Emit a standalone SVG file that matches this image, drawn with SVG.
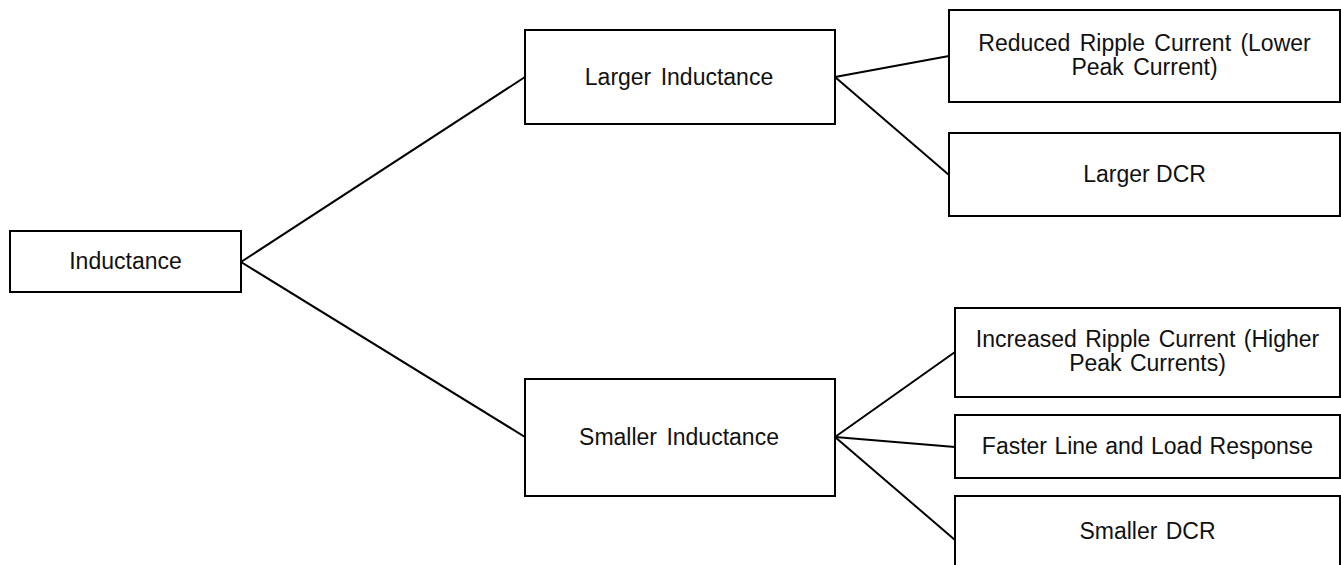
<svg xmlns="http://www.w3.org/2000/svg" width="1341" height="565" viewBox="0 0 1341 565">
<style>
.box{fill:#fff;stroke:#000;stroke-width:2}
.lbl{font-family:"Liberation Sans",Arial,sans-serif;font-size:23px;fill:#111;text-anchor:middle}
.con{stroke:#000;stroke-width:2;fill:none}
</style>
<rect width="1341" height="565" fill="#fff"/>
<g id="connectors">
<line class="con" x1="241" y1="262" x2="525" y2="77"/>
<line class="con" x1="241" y1="262" x2="525" y2="437"/>
<line class="con" x1="835" y1="77" x2="949" y2="56"/>
<line class="con" x1="835" y1="77" x2="949" y2="175"/>
<line class="con" x1="835" y1="437" x2="955" y2="352"/>
<line class="con" x1="835" y1="437" x2="955" y2="447"/>
<line class="con" x1="835" y1="437" x2="955" y2="540"/>
</g>
<g id="n-inductance">
<rect class="box" x="10" y="231" width="231" height="61"/>
<text class="lbl" x="125.5" y="269">Inductance</text>
</g>
<g id="n-larger">
<rect class="box" x="525" y="30" width="310" height="94"/>
<text class="lbl" x="679" y="84.5" word-spacing="3">Larger Inductance</text>
</g>
<g id="n-smaller">
<rect class="box" x="525" y="379" width="310" height="117"/>
<text class="lbl" x="679" y="444.5" word-spacing="3">Smaller Inductance</text>
</g>
<g id="n-reduced">
<rect class="box" x="949" y="10" width="391" height="92"/>
<text class="lbl" x="1144.5" y="50.5" word-spacing="3">Reduced Ripple Current (Lower</text>
<text class="lbl" x="1144.5" y="75" word-spacing="3">Peak Current)</text>
</g>
<g id="n-largerdcr">
<rect class="box" x="949" y="133" width="391" height="83"/>
<text class="lbl" x="1144.5" y="182">Larger DCR</text>
</g>
<g id="n-increased">
<rect class="box" x="955" y="308" width="385" height="89"/>
<text class="lbl" x="1147.5" y="346.5" word-spacing="2">Increased Ripple Current (Higher</text>
<text class="lbl" x="1147.5" y="371" word-spacing="2">Peak Currents)</text>
</g>
<g id="n-faster">
<rect class="box" x="955" y="415" width="385" height="63"/>
<text class="lbl" x="1147.5" y="453.5" word-spacing="1">Faster Line and Load Response</text>
</g>
<g id="n-smallerdcr">
<rect class="box" x="955" y="496" width="385" height="72"/>
<text class="lbl" x="1147.5" y="538.5" word-spacing="2">Smaller DCR</text>
</g>
</svg>
